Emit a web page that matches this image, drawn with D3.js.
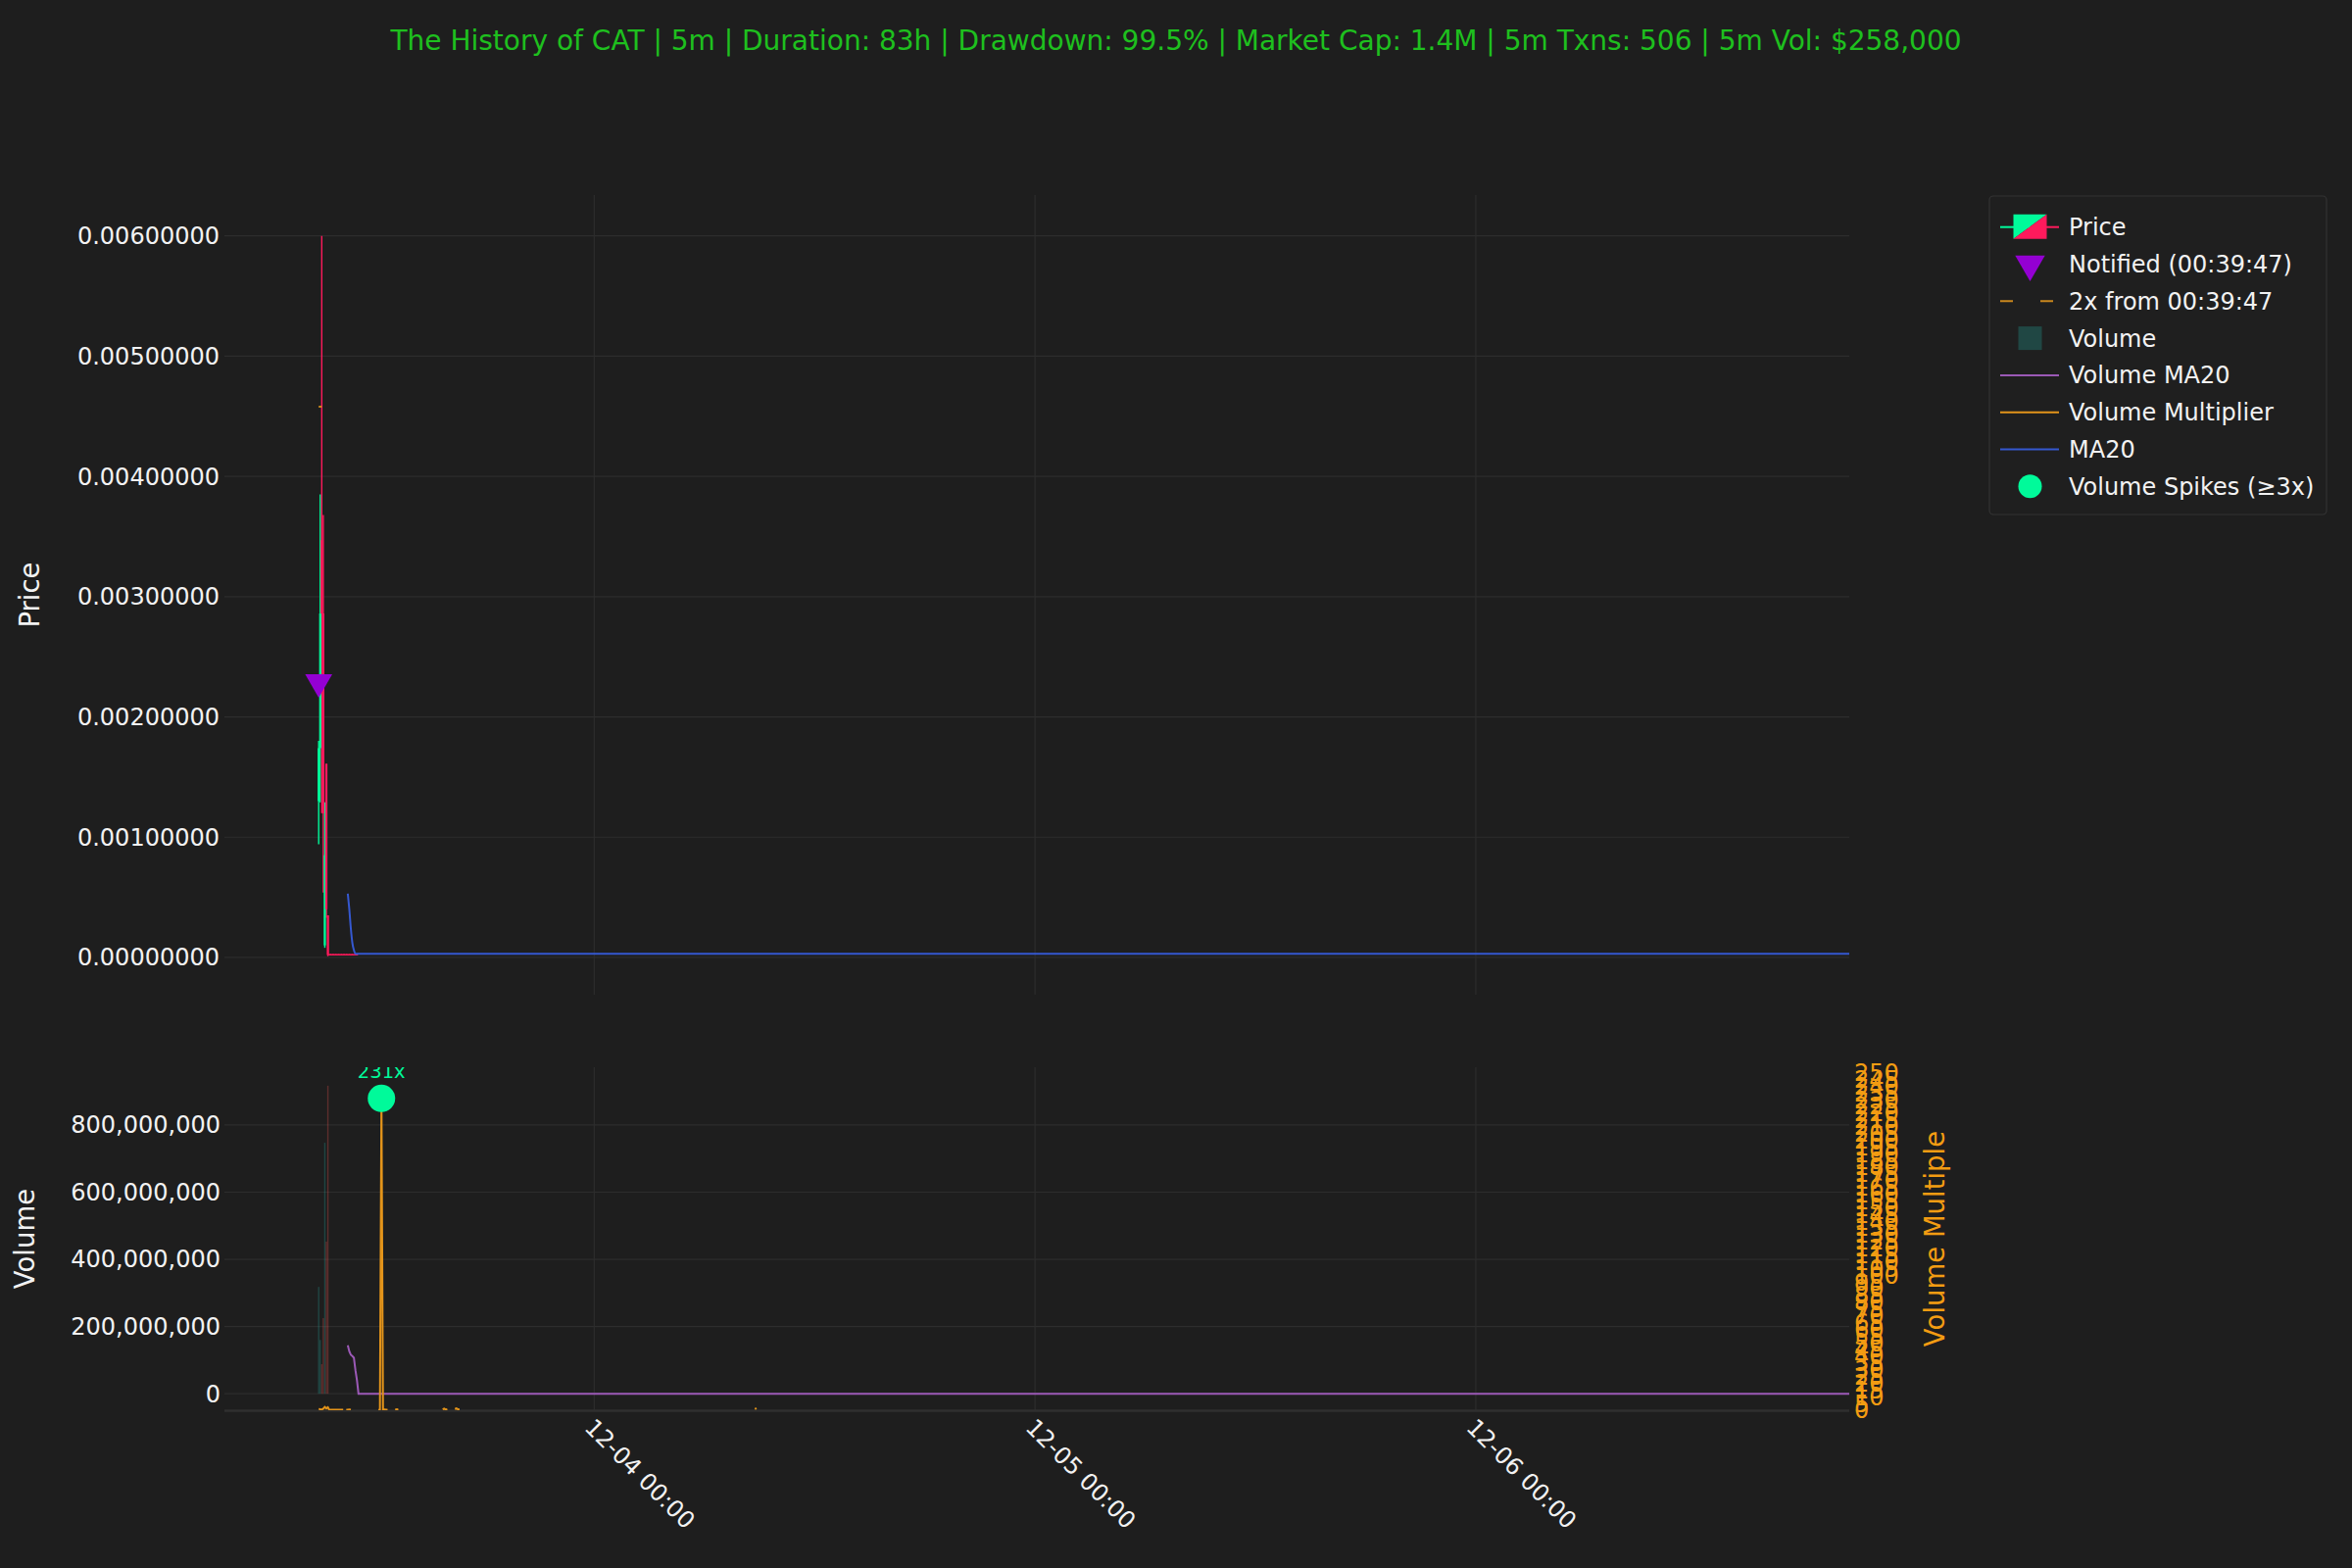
<!DOCTYPE html>
<html><head><meta charset="utf-8">
<script src="https://cdn.jsdelivr.net/npm/d3@7"></script>
<style>
html,body{margin:0;padding:0;background:#1e1e1e;}
svg{display:block;font-family:"DejaVu Sans",sans-serif;}
</style>
</head><body>
<svg id="chart" width="2400" height="1600"></svg>
<script>
// ---------------- DATA ----------------
const titleText = "The History of CAT | 5m | Duration: 83h | Drawdown: 99.5% | Market Cap: 1.4M | 5m Txns: 506 | 5m Vol: $258,000";
const firstCandle = "2024-12-03T09:00:00Z";
const candleMinutes = 5;
const xDomain = ["2024-12-03T03:52:00Z", "2024-12-06T20:20:00Z"];

const candleIndex = [0,1,2,3,4,5,6,7,8,9,10,11,12,13,14,15,16,17,18,19,20,21,22,23,24,25];
const openP  = [0.00130,0.00174,0.00347,0.00286,0.00010,0.00161,0.00035,0.000025,0.000025,0.000025,0.000025,0.000025,0.000025,0.000025,0.000025,0.000025,0.000025,0.000025,0.000025,0.000025,0.000025,0.000025,0.000025,0.000025,0.000025,0.000025];
const highP  = [0.00180,0.00385,0.00600,0.00368,0.00129,0.00161,0.00035,0.00003,0.00003,0.00003,0.00003,0.00003,0.00003,0.00003,0.00003,0.00003,0.00003,0.00003,0.00003,0.00003,0.00003,0.00003,0.00003,0.00003,0.00003,0.00003];
const lowP   = [0.00094,0.00129,0.00120,0.00054,0.00008,0.00033,0.00001,0.00002,0.00002,0.00002,0.00002,0.00002,0.00002,0.00002,0.00002,0.00002,0.00002,0.00002,0.00002,0.00002,0.00002,0.00002,0.00002,0.00002,0.00002,0.00002];
const closeP = [0.00174,0.00286,0.00286,0.00120,0.00085,0.00040,0.00002,0.00002,0.00002,0.00002,0.00002,0.00002,0.00002,0.00002,0.00002,0.00002,0.00002,0.00002,0.00002,0.00002,0.00002,0.00002,0.00002,0.00002,0.00002,0.00002];

const maIndex = [19,20,21,22,23,24,1000];
const maValue = [0.00053,0.00040,0.00024,0.00012,0.00006,0.00003,0.00003];

const volIndex = [0,1,2,3,4,5,6,41];
const volValue = [318e6,160e6,88e6,225e6,747e6,453e6,917e6,4.6e6];
const volIsUp  = [true,true,false,false,true,false,false,true];

const volMaIndex = [19,20,21,22,23,24,25,26,1000];
const volMaValue = [144e6,126e6,116e6,112e6,107e6,70e6,40e6,0.02e6,0.02e6];

const multIndex = [0,1,2,3,4,5,6,7,8,9,10,11,12,13,14,15,16,17, 18,19,20,21,22, 39,40,41,42,43,44,45,46, 50,51,52,53, 81,82,83,84,85, 89,90,91,92,93, 285,286,287];
const multValue = [1.0,0.67,0.47,1.14,2.43,1.37,2.21,0.05,0.4,0.3,0.4,0.3,0.4,0.3,0.4,0.3,0.3,null, 0.4,0.3,0.5,0.3,null, 0.2,0.4,231,0.5,0.6,0.3,0.4,null, 0.8,0.5,0.7,null, 0.6,1.2,0.5,0.8,null, 0.9,1.3,0.6,0.7,null, 0.8,1.5,null];

const spikeIndex = [41];
const spikeValue = [231];

const notifiedIndex = 0;
const notifiedPrice = 0.00229;
const targetPrice = 0.00458;
const targetIndex = [0, 2];

const priceTicks = [0,0.001,0.002,0.003,0.004,0.005,0.006];
const volTicks = [0,2e8,4e8,6e8,8e8];
const dayTicks = ["2024-12-04T00:00:00Z","2024-12-05T00:00:00Z","2024-12-06T00:00:00Z"];
const multTicks = [0,5,10,15,20,25,30,35,40,45,50,55,60,65,70,75,80,85,90,95,100,105,110,115,120,125,130,135,140,145,150,155,160,165,170,175,180,185,190,195,200,205,210,215,220,225,230,235,240,245,250];

const legendLabels = ["Price","Notified (00:39:47)","2x from 00:39:47","Volume","Volume MA20","Volume Multiplier","MA20","Volume Spikes (\u22653x)"];

// ---------------- STYLE ----------------
const C = {
  bg:"#1e1e1e", grid:"#2d2d2d", text:"#f2f2f2", title:"#1ec01e",
  up:"#00fa9a", down:"#ff1a5c", volUp:"#26a69a", volDown:"#ef5350",
  ma:"#3558d0", volMa:"#9b59b6", mult:"#e3941a", multText:"#f39c12",
  notified:"#9400d3", target:"#c8871e"
};
const L = 229, R = 1887;
const pTop = 199, pBot = 1015, vTop = 1089, vBot = 1439;

const svg = d3.select("#chart");
svg.append("rect").attr("width",2400).attr("height",1600).attr("fill",C.bg);

const t0 = new Date(firstCandle).getTime();
const tOf = i => new Date(t0 + i*candleMinutes*60000);

const x = d3.scaleUtc().domain(xDomain.map(d=>new Date(d))).range([L,R]);
const yP = d3.scaleLinear().domain([-0.00031,0.00634]).range([pBot,pTop]);
const yV = d3.scaleLinear().domain([-49e6,972e6]).range([vBot,vTop]);
const yM = d3.scaleLinear().domain([0,254.1]).range([vBot,vTop]);

const defs = svg.append("defs");
defs.append("clipPath").attr("id","clipP").append("rect").attr("x",L).attr("y",pTop).attr("width",R-L).attr("height",pBot-pTop);
defs.append("clipPath").attr("id","clipV").append("rect").attr("x",L).attr("y",vTop).attr("width",R-L).attr("height",vBot-vTop);

// title
svg.append("text").attr("x",1200).attr("y",51).attr("text-anchor","middle")
  .attr("fill",C.title).attr("font-size",28).text(titleText);

// ---------- grids ----------
const gP = svg.append("g");
gP.selectAll("line.h").data(priceTicks).join("line").attr("class","h")
  .attr("x1",L).attr("x2",R).attr("y1",d=>yP(d)).attr("y2",d=>yP(d))
  .attr("stroke",C.grid).attr("stroke-width",1.2);
gP.selectAll("line.v").data(dayTicks).join("line").attr("class","v")
  .attr("x1",d=>x(new Date(d))).attr("x2",d=>x(new Date(d))).attr("y1",pTop).attr("y2",pBot)
  .attr("stroke",C.grid).attr("stroke-width",1.2);

const gV = svg.append("g");
gV.selectAll("line.h").data(volTicks).join("line").attr("class","h")
  .attr("x1",L).attr("x2",R).attr("y1",d=>yV(d)).attr("y2",d=>yV(d))
  .attr("stroke",C.grid).attr("stroke-width",1.2);
gV.selectAll("line.v").data(dayTicks).join("line").attr("class","v")
  .attr("x1",d=>x(new Date(d))).attr("x2",d=>x(new Date(d))).attr("y1",vTop).attr("y2",vBot)
  .attr("stroke",C.grid).attr("stroke-width",1.2);
svg.append("line").attr("x1",L).attr("x2",R).attr("y1",vBot+0.5).attr("y2",vBot+0.5)
  .attr("stroke","#2f2f2f").attr("stroke-width",2.5);

// ---------- axes labels ----------
svg.append("g").selectAll("text").data(priceTicks).join("text")
  .attr("x",224).attr("y",d=>yP(d)).attr("dy","0.35em").attr("text-anchor","end")
  .attr("fill",C.text).attr("font-size",24).text(d3.format(".8f"));
svg.append("g").selectAll("text").data(volTicks).join("text")
  .attr("x",225).attr("y",d=>yV(d)).attr("dy","0.35em").attr("text-anchor","end")
  .attr("fill",C.text).attr("font-size",24).text(d3.format(","));
svg.append("g").selectAll("text").data(multTicks).join("text")
  .attr("x",1892).attr("y",d=>yM(d)).attr("dy","0.35em").attr("text-anchor","start")
  .attr("fill",C.multText).attr("font-size",24).text(d=>String(d));
svg.append("g").selectAll("text").data(dayTicks).join("text")
  .attr("transform",d=>`translate(${x(new Date(d))-11},1458) rotate(45)`)
  .attr("fill",C.text).attr("font-size",24).text(d=>d3.utcFormat("%m-%d %H:%M")(new Date(d)));

svg.append("text").attr("transform",`translate(40,${(pTop+pBot)/2}) rotate(-90)`)
  .attr("text-anchor","middle").attr("fill",C.text).attr("font-size",27.5).text("Price");
svg.append("text").attr("transform",`translate(35,${(vTop+vBot)/2}) rotate(-90)`)
  .attr("text-anchor","middle").attr("fill",C.text).attr("font-size",27.5).text("Volume");
svg.append("text").attr("transform",`translate(1984,${(vTop+vBot)/2}) rotate(-90)`)
  .attr("text-anchor","middle").attr("fill",C.multText).attr("font-size",27.5).text("Volume Multiple");

// ---------- price panel ----------
const pp = svg.append("g").attr("clip-path","url(#clipP)");
const candles = candleIndex.map((i,k)=>({t:tOf(i),o:openP[k],h:highP[k],l:lowP[k],c:closeP[k]}));
pp.selectAll("line.wick").data(candles).join("line").attr("class","wick")
  .attr("x1",d=>x(d.t)).attr("x2",d=>x(d.t)).attr("y1",d=>yP(d.h)).attr("y2",d=>yP(d.l))
  .attr("stroke",d=>d.c>=d.o?C.up:C.down).attr("stroke-width",1.4);
pp.selectAll("rect.body").data(candles).join("rect").attr("class","body")
  .attr("x",d=>x(d.t)-1.1).attr("width",2.2)
  .attr("y",d=>yP(Math.max(d.o,d.c))).attr("height",d=>Math.max(1,Math.abs(yP(d.o)-yP(d.c))))
  .attr("fill",d=>d.c>=d.o?C.up:C.down);

const maData = maIndex.map((i,k)=>({t:tOf(i),v:maValue[k]}));
pp.append("path").datum(maData).attr("fill","none").attr("stroke",C.ma).attr("stroke-width",2)
  .attr("d",d3.line().x(d=>x(d.t)).y(d=>yP(d.v)).curve(d3.curveMonotoneX));

pp.append("path").datum(targetIndex.map(i=>({t:tOf(i),v:targetPrice})))
  .attr("fill","none").attr("stroke",C.target).attr("stroke-width",2).attr("stroke-dasharray","5,3")
  .attr("d",d3.line().x(d=>x(d.t)).y(d=>yP(d.v)));

const tri = d3.symbol().type(d3.symbolTriangle).size(330);
pp.append("path").attr("d",tri())
  .attr("transform",`translate(${x(tOf(notifiedIndex))},${yP(notifiedPrice)}) rotate(180)`)
  .attr("fill",C.notified);

// ---------- volume panel ----------
const vp = svg.append("g").attr("clip-path","url(#clipV)");
const vols = volIndex.map((i,k)=>({t:tOf(i),v:volValue[k],up:volIsUp[k]}));
vp.selectAll("rect.vol").data(vols).join("rect").attr("class","vol")
  .attr("x",d=>x(d.t)-0.7).attr("width",1.4)
  .attr("y",d=>yV(d.v)).attr("height",d=>yV(0)-yV(d.v))
  .attr("fill",d=>d.up?C.volUp:C.volDown).attr("fill-opacity",0.3);

const vmaData = volMaIndex.map((i,k)=>({t:tOf(i),v:volMaValue[k]}));
vp.append("path").datum(vmaData).attr("fill","none").attr("stroke",C.volMa).attr("stroke-width",2)
  .attr("d",d3.line().x(d=>x(d.t)).y(d=>yV(d.v)));

const multData = multIndex.map((i,k)=>({t:tOf(i),v:multValue[k]}));
vp.append("path").datum(multData).attr("fill","none").attr("stroke",C.mult).attr("stroke-width",2)
  .attr("d",d3.line().defined(d=>d.v!=null).x(d=>x(d.t)).y(d=>yM(d.v)));

const spikes = spikeIndex.map((i,k)=>({t:tOf(i),v:spikeValue[k]}));
vp.selectAll("circle.spike").data(spikes).join("circle").attr("class","spike")
  .attr("cx",d=>x(d.t)).attr("cy",d=>yM(d.v)).attr("r",14).attr("fill",C.up);
vp.selectAll("text.spike").data(spikes).join("text").attr("class","spike")
  .attr("x",d=>x(d.t)).attr("y",d=>yM(d.v)-21).attr("text-anchor","middle")
  .attr("fill",C.up).attr("font-size",19.5).text(d=>d.v+"x");

// ---------- legend ----------
const lg = svg.append("g");
lg.append("rect").attr("x",2030).attr("y",200).attr("width",344).attr("height",325).attr("rx",4)
  .attr("fill","#1f1f1f").attr("stroke","#333").attr("stroke-width",1.2);
const ly = k => 231.7 + k*37.8;
const hx0 = 2041, hx1 = 2101, hc = 2071.5;
lg.selectAll("text").data(legendLabels).join("text")
  .attr("x",2111).attr("y",(d,k)=>ly(k)).attr("dy","0.35em").attr("fill",C.text).attr("font-size",24).text(d=>d);
// price handle
lg.append("line").attr("x1",hx0).attr("x2",hc).attr("y1",ly(0)).attr("y2",ly(0)).attr("stroke",C.up).attr("stroke-width",2);
lg.append("line").attr("x1",hc).attr("x2",hx1).attr("y1",ly(0)).attr("y2",ly(0)).attr("stroke",C.down).attr("stroke-width",2);
lg.append("path").attr("d",`M${hc-17},${ly(0)-13}L${hc+17},${ly(0)-13}L${hc-17},${ly(0)+12}Z`).attr("fill",C.up);
lg.append("path").attr("d",`M${hc+17},${ly(0)-13}L${hc+17},${ly(0)+12}L${hc-17},${ly(0)+12}Z`).attr("fill",C.down);
// notified
lg.append("path").attr("d",d3.symbol().type(d3.symbolTriangle).size(400)())
  .attr("transform",`translate(${hc},${ly(1)}) rotate(180)`).attr("fill",C.notified);
// dashed
lg.append("line").attr("x1",hx0).attr("x2",hx1).attr("y1",ly(2)).attr("y2",ly(2))
  .attr("stroke",C.target).attr("stroke-width",2).attr("stroke-dasharray","13,28");
// volume
lg.append("rect").attr("x",hc-12).attr("y",ly(3)-12).attr("width",24).attr("height",24).attr("fill",C.volUp).attr("fill-opacity",0.3);
lg.append("line").attr("x1",hx0).attr("x2",hx1).attr("y1",ly(4)).attr("y2",ly(4)).attr("stroke",C.volMa).attr("stroke-width",2);
lg.append("line").attr("x1",hx0).attr("x2",hx1).attr("y1",ly(5)).attr("y2",ly(5)).attr("stroke",C.mult).attr("stroke-width",2);
lg.append("line").attr("x1",hx0).attr("x2",hx1).attr("y1",ly(6)).attr("y2",ly(6)).attr("stroke",C.ma).attr("stroke-width",2);
lg.append("circle").attr("cx",hc).attr("cy",ly(7)).attr("r",12).attr("fill",C.up);
</script>
</body></html>
